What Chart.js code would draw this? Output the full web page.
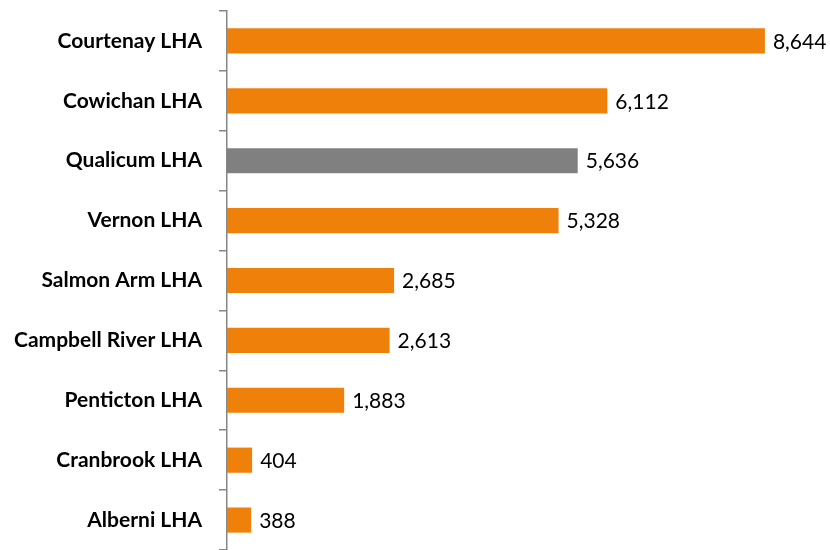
<!DOCTYPE html>
<html>
<head>
<meta charset="utf-8">
<script src="https://cdn.jsdelivr.net/npm/chart.js@4/dist/chart.umd.min.js"></script>
<style>
  html, body { margin: 0; padding: 0; background: #fff; }
  #wrap { width: 830px; height: 550px; }
</style>
</head>
<body>
<div id="wrap"><canvas id="barChart"></canvas></div>
<script>
const areas = ['Courtenay LHA', 'Cowichan LHA', 'Qualicum LHA', 'Vernon LHA', 'Salmon Arm LHA',
               'Campbell River LHA', 'Penticton LHA', 'Cranbrook LHA', 'Alberni LHA'];
const counts = [8644, 6112, 5636, 5328, 2685, 2613, 1883, 404, 388];
const highlight = 'Qualicum LHA';

const orange = '#EF800A';
const grey = '#808080';

// writes the value just past the end of each bar
const valueLabels = {
    id: 'valueLabels',
    afterDatasetsDraw(chart) {
        const ctx = chart.ctx;
        const meta = chart.getDatasetMeta(0);
        ctx.save();
        ctx.font = '21px Lato, "Open Sans", sans-serif';
        ctx.fillStyle = '#000';
        ctx.textBaseline = 'middle';
        ctx.textAlign = 'left';
        meta.data.forEach((bar, i) => {
            ctx.fillText(counts[i].toLocaleString('en-US'), bar.x + 8, bar.y + 1);
        });
        ctx.restore();
    }
};

new Chart(document.getElementById('barChart'), {
    type: 'bar',
    data: {
        labels: areas,
        datasets: [{
            data: counts,
            backgroundColor: areas.map(a => a === highlight ? grey : orange),
            barPercentage: 0.42,
            categoryPercentage: 1
        }]
    },
    options: {
        indexAxis: 'y',
        responsive: true,
        maintainAspectRatio: false,
        animation: false,
        layout: { padding: { top: 11, bottom: -1, right: 0, left: 0 } },
        plugins: { legend: { display: false }, tooltip: { enabled: false } },
        scales: {
            x: {
                display: false,
                min: 0,
                max: 9690
            },
            y: {
                afterFit: scale => {
                    scale.width = 227;
                    scale.paddingTop = 0;
                    scale.paddingBottom = 0;
                },
                border: { display: true, color: '#868686', width: 1.5 },
                grid: {
                    offset: true,
                    drawOnChartArea: false,
                    tickLength: 8,
                    tickColor: '#868686',
                    lineWidth: 1.5
                },
                ticks: {
                    padding: 17,
                    color: '#000',
                    font: { family: 'Lato, "Open Sans", sans-serif', size: 21, weight: 'bold' }
                }
            }
        }
    },
    plugins: [valueLabels]
});
</script>
</body>
</html>
